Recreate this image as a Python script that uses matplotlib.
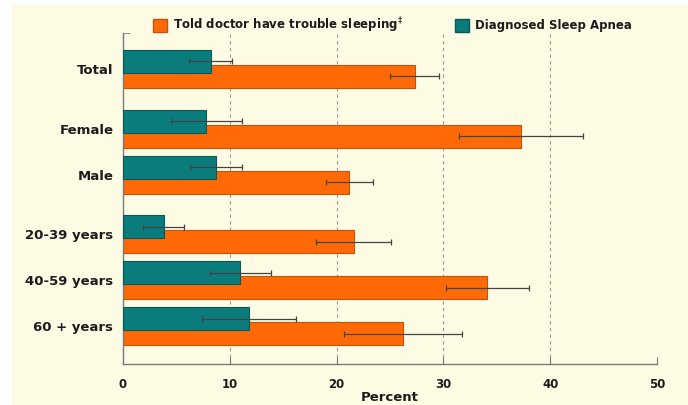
import numpy as np
import matplotlib.pyplot as plt
from matplotlib.patches import Patch, Rectangle

plt.rcParams["font.family"] = ["DejaVu Sans"]

groups = ["Total", "Female", "Male", "20-39 years", "40-59 years", "60 + years"]
trouble_pct = [27.3, 37.3, 21.2, 21.6, 34.1, 26.2]
trouble_err = [2.3, 5.8, 2.2, 3.5, 3.9, 5.5]
apnea_pct = [8.2, 7.8, 8.7, 3.8, 11.0, 11.8]
apnea_err = [2.0, 3.3, 2.4, 1.9, 2.9, 4.4]
x_ticks = [0, 10, 20, 30, 40, 50]

# rows are bunched: totals, then sex, then age bands
row_pos = np.array([0.0, 1.3, 2.3, 3.6, 4.6, 5.6])
bar_h = 0.5
shift = 0.163

orange, orange_edge = "#FF6A06", "#C4520C"
teal, teal_edge = "#0B7C7C", "#075858"
cream = "#FDFBE4"
ink = "#1c1c1c"

fig = plt.figure(figsize=(6.88, 4.05), dpi=100)
fig.patch.set_facecolor("white")
fig.patches.append(Rectangle((12 / 688, -0.01), 1, 0.01 + 400 / 405, transform=fig.transFigure,
                             facecolor=cream, edgecolor="none", zorder=-5))
ax = fig.add_axes([123 / 688, 41 / 405, 534 / 688, 331 / 405])
ax.set_facecolor(cream)

err_kw = dict(ecolor="#444444", elinewidth=0.9, capsize=2, capthick=0.9)
ax.barh(row_pos + shift, trouble_pct, height=bar_h, xerr=trouble_err, color=orange,
        edgecolor=orange_edge, linewidth=0.8, error_kw=err_kw, zorder=2)
ax.barh(row_pos - shift, apnea_pct, height=bar_h, xerr=apnea_err, color=teal,
        edgecolor=teal_edge, linewidth=0.8, error_kw=err_kw, zorder=3)

ax.set_xlim(0, 50)
ax.set_ylim(6.42, -0.78)
ax.set_xticks(x_ticks)
ax.set_yticks(row_pos)
ax.set_yticklabels(groups)
ax.set_yticks([-0.78], minor=True)

for g in x_ticks[1:-1]:
    ax.axvline(g, color="#9a9a9a", linewidth=0.8, linestyle=(0, (3, 3)), zorder=1)

for side in ("top", "right"):
    ax.spines[side].set_visible(False)
for side in ("left", "bottom"):
    ax.spines[side].set_color("#7a7a7a")
    ax.spines[side].set_linewidth(1.0)

ax.tick_params(axis="x", direction="in", length=5, color="#7a7a7a", pad=10,
               labelsize=8.5, labelcolor=ink)
ax.tick_params(axis="y", which="major", length=0, pad=7, labelsize=9.5, labelcolor=ink)
ax.tick_params(axis="y", which="minor", direction="in", length=5, color="#7a7a7a")
for lab in ax.get_xticklabels() + ax.get_yticklabels():
    lab.set_fontweight("bold")

ax.set_xlabel("Percent", fontsize=9.5, fontweight="bold", color=ink, labelpad=0)

handles = [Patch(facecolor=orange, edgecolor=orange_edge),
           Patch(facecolor=teal, edgecolor=teal_edge)]
labels = [r"Told doctor have trouble sleeping$^{\ddagger}$", "Diagnosed Sleep Apnea"]
leg = fig.legend(handles, labels, loc="center left", bbox_to_anchor=(142 / 688, 1 - 25 / 405),
                 ncol=2, frameon=False, prop=dict(size=8.5, weight="bold"),
                 handlelength=1.2, handleheight=1.35, handletextpad=0.5, columnspacing=4.4)
for t in leg.get_texts():
    t.set_color(ink)

fig.savefig("out.png", dpi=100, facecolor=fig.get_facecolor())
